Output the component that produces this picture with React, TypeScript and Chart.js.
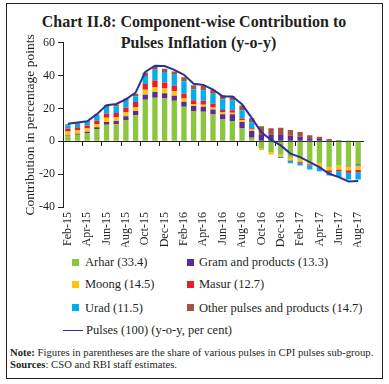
import React, { useEffect, useRef } from 'react';
import { Chart, registerables } from 'chart.js';

Chart.register(...registerables);

const months = [
  'Feb-15', 'Mar-15', 'Apr-15', 'May-15', 'Jun-15', 'Jul-15', 'Aug-15', 'Sep-15', 'Oct-15', 'Nov-15', 'Dec-15',
  'Jan-16', 'Feb-16', 'Mar-16', 'Apr-16', 'May-16', 'Jun-16', 'Jul-16', 'Aug-16', 'Sep-16', 'Oct-16', 'Nov-16', 'Dec-16',
  'Jan-17', 'Feb-17', 'Mar-17', 'Apr-17', 'May-17', 'Jun-17', 'Jul-17', 'Aug-17',
];

const arhar = [3, 4, 5, 7.5, 10, 10.4, 13, 15.9, 25.3, 26.5, 26, 24.7, 21, 18.4, 18, 16.3, 13.3, 12.4, 7.8, 2.2, -4.5, -6.5, -8.2, -10, -10.6, -12, -13.3, -15.7, -14.7, -14.7, -14];
const gram = [0.5, 0.6, 0.8, 1, 1.8, 2, 2.3, 2.5, 3, 3.5, 3.2, 3, 3, 3, 3, 3, 3.2, 4, 4, 4, 4.3, 4, 4.3, 3.3, 2.9, 1.8, 1.4, 0.8, 0.2, -0.5, -0.8];
const moong = [2.5, 2.3, 2, 2, 2.5, 2.3, 2.3, 2.5, 3, 3, 3, 2.8, 2, 1.2, 1.2, 1.2, 1, 1, 1, 1, -1, -1.6, -1.4, -1.5, -2, -2, -2, -2, -2.5, -2.5, -2.5];
const masur = [1.8, 1.6, 1.8, 2, 2.6, 2.5, 3, 3, 3.5, 4, 3.5, 3.5, 3, 2.4, 2.4, 2.4, 1.5, 1.5, 1, 0.7, 0, 0, 0, -0.3, -0.5, -0.6, -0.6, -1.2, -1, -1.5, -1.5];
const urad = [2, 2.2, 2.2, 3, 4, 4, 4, 3.5, 5, 6.5, 6.5, 6.5, 7.5, 6.5, 6.5, 6, 6.5, 6, 5, 3.5, 0, 0, -0.6, -1.5, -1.6, -2.5, -2.3, -2, -3.5, -4, -4.5];
const others = [0.5, 0.7, 0.6, 0.8, 1, 1.2, 1.5, 1.5, 2, 2, 2, 2, 2.5, 2.6, 2.5, 2.4, 2.5, 2.5, 3, 2.6, 4.9, 4, 3.9, 3.5, 2.7, 1.8, 1.4, 0.6, 0.3, 0.1, 0];
const pulses = [10.6, 11.4, 12.2, 16.5, 22, 22.7, 25.5, 29.6, 42.2, 46, 45.8, 43.5, 40.5, 35, 34.3, 31.5, 27.3, 27.3, 22.5, 14.2, 5.5, 0.8, -2.5, -7.5, -9.6, -12.7, -15.7, -19.8, -21.8, -24.5, -24.2];

const barNames = ['Arhar (33.4)', 'Gram and products (13.3)', 'Moong (14.5)', 'Masur (12.7)', 'Urad (11.5)', 'Other pulses and products (14.7)'];
const lineName = 'Pulses (100) (y-o-y, per cent)';
const yTitle = 'Contribution in percentage points';
const yTicks = { min: -40, max: 60, step: 20 };

const COLORS = ['#8cc63f', '#5c2d91', '#ffc20e', '#ed1c24', '#00aeef', '#a0553f'];
const LINE_COLOR = '#2e3192';
const INK = '#231f20';
const FONT = '"Liberation Serif", "Times New Roman", serif';

export default function App() {
  const ref = useRef<HTMLCanvasElement>(null);

  useEffect(() => {
    const series = [arhar, gram, moong, masur, urad, others];
    const chart = new Chart(ref.current!, {
      type: 'bar',
      data: {
        labels: months,
        datasets: [
          ...series.map((d, i) => ({
            type: 'bar' as const,
            label: barNames[i],
            data: d,
            backgroundColor: COLORS[i],
            stack: 'c',
            xAxisID: 'x',
            yAxisID: 'y',
            barPercentage: 0.55,
            categoryPercentage: 1,
            order: 2,
          })),
          {
            type: 'line' as const,
            label: lineName,
            data: pulses,
            borderColor: LINE_COLOR,
            backgroundColor: LINE_COLOR,
            borderWidth: 2,
            pointRadius: 0,
            tension: 0,
            stack: 'line',
            xAxisID: 'x',
            yAxisID: 'y',
            order: 1,
          },
        ],
      } as any,
      options: {
        responsive: false,
        maintainAspectRatio: false,
        animation: false,
        layout: { padding: { left: 22, top: 22.7, right: 26, bottom: 3 } },
        plugins: { legend: { display: false }, tooltip: { enabled: false } },
        scales: {
          x: {
            type: 'category',
            offset: true,
            grid: { display: false, drawTicks: false },
            border: { display: false },
            ticks: {
              autoSkip: false,
              maxRotation: 90,
              minRotation: 90,
              padding: 5,
              color: INK,
              font: { family: FONT, size: 12 },
              callback: (_v: any, i: number) => (i % 2 === 0 ? months[i] : ''),
            },
            afterFit: (s: any) => { s.height = 40; },
          },
          x2: {
            type: 'category',
            axis: 'x',
            position: { y: 0 },
            offset: true,
            grid: {
              offset: true,
              drawOnChartArea: false,
              tickLength: 4,
              color: (c: any) => (c.index % 2 === 0 ? INK : 'rgba(0,0,0,0)'),
            },
            border: { display: true, color: INK, width: 1 },
            ticks: { display: false },
          },
          y: {
            stacked: true,
            min: yTicks.min,
            max: yTicks.max,
            ticks: { stepSize: yTicks.step, padding: 3, color: INK, font: { family: FONT, size: 12 } },
            grid: { drawOnChartArea: false, tickLength: 5, color: INK },
            border: { color: INK, width: 1 },
            title: { display: true, text: yTitle, color: INK, padding: 0, font: { family: FONT, size: 13.5 } },
            afterFit: (s: any) => { s.width = 41; },
          },
        },
      } as any,
    });
    return () => chart.destroy();
  }, []);

  const sq = (c: string, x: number, y: number) => (
    <div style={{ position: 'absolute', left: x, top: y - 3.5, width: 7, height: 7, background: c }} />
  );
  const txt = (t: string, x: number, y: number) => (
    <div style={{ position: 'absolute', left: x, top: y - 8, height: 16, lineHeight: '16px', fontSize: 12.5, whiteSpace: 'nowrap' }}>{t}</div>
  );
  const rows = [262, 284, 307.5];

  return (
    <div style={{ position: 'absolute', left: 0, top: 0, width: 389, height: 384, fontFamily: FONT, color: INK, background: '#fff' }}>
      <div style={{ position: 'absolute', left: 6, top: 3, width: 377, height: 376, border: `1px solid ${INK}`, boxSizing: 'border-box' }} />
      <div style={{ position: 'absolute', left: 0, width: 388, top: 11.4, lineHeight: '21px', fontSize: 16, fontWeight: 'bold', textAlign: 'center', whiteSpace: 'nowrap' }}>
        Chart II.8: Component-wise Contribution to
      </div>
      <div style={{ position: 'absolute', left: 0, width: 397, top: 32.4, lineHeight: '21px', fontSize: 16, fontWeight: 'bold', textAlign: 'center', whiteSpace: 'nowrap' }}>
        Pulses Inflation (y-o-y)
      </div>
      <div style={{ position: 'absolute', left: 0, top: 20, width: 389, height: 230 }}>
        <canvas ref={ref} width={389} height={230} style={{ width: 389, height: 230, display: 'block' }} />
      </div>
      {sq(COLORS[0], 72, rows[0])}{txt(barNames[0], 85, rows[0])}
      {sq(COLORS[1], 187, rows[0])}{txt(barNames[1], 199, rows[0])}
      {sq(COLORS[2], 72, rows[1])}{txt(barNames[2], 85, rows[1])}
      {sq(COLORS[3], 187, rows[1])}{txt(barNames[3], 199, rows[1])}
      {sq(COLORS[4], 72, rows[2])}{txt(barNames[4], 85, rows[2])}
      {sq(COLORS[5], 187, rows[2])}{txt(barNames[5], 199, rows[2])}
      <div style={{ position: 'absolute', left: 63, top: 329.5, width: 20, height: 1.5, background: LINE_COLOR }} />
      {txt(lineName, 86, 330)}
      <div style={{ position: 'absolute', left: 10, top: 344.5, lineHeight: '14px', fontSize: 10.7, whiteSpace: 'nowrap' }}>
        <b>Note:</b> Figures in parentheses are the share of various pulses in CPI pulses sub-group.
      </div>
      <div style={{ position: 'absolute', left: 10, top: 356.5, lineHeight: '14px', fontSize: 10.7, whiteSpace: 'nowrap' }}>
        <b>Sources</b>: CSO and RBI staff estimates.
      </div>
    </div>
  );
}
